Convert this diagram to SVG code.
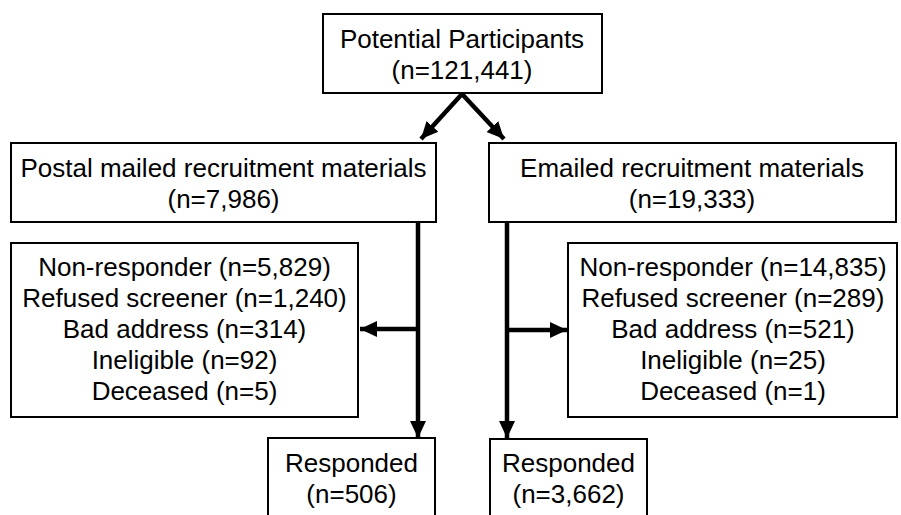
<svg xmlns="http://www.w3.org/2000/svg" width="901" height="515" viewBox="0 0 901 515">
<style>
.box{fill:#fff;stroke:#000;stroke-width:2}
.t{font-family:"Liberation Sans",Arial,sans-serif;font-size:26px;fill:#000;text-anchor:middle}
.c{fill:none;stroke:#000;stroke-width:4.5}
</style>
<defs>
<marker id="ah" markerUnits="userSpaceOnUse" markerWidth="18" markerHeight="18" viewBox="0 0 18 18" refX="17" refY="9" orient="auto">
<path d="M0,1 L17,9 L0,17 Z" fill="#000"/>
</marker>
</defs>
<g id="connectors">
<path class="c" d="M462,94 L421,139" marker-end="url(#ah)"/>
<path class="c" d="M462,94 L504,139" marker-end="url(#ah)"/>
<path class="c" d="M418,222 L418,438" marker-end="url(#ah)"/>
<path class="c" d="M418,329 L360,329" marker-end="url(#ah)"/>
<path class="c" d="M507,222 L507,438" marker-end="url(#ah)"/>
<path class="c" d="M507,330 L567,330" marker-end="url(#ah)"/>
</g>
<g id="potential">
<rect class="box" x="323" y="14" width="279" height="79"/>
<text class="t" x="462" y="48">Potential Participants</text>
<text class="t" x="462" y="79">(n=121,441)</text>
</g>
<g id="postal">
<rect class="box" x="11" y="143" width="425" height="79"/>
<text class="t" x="223.5" y="177">Postal mailed recruitment materials</text>
<text class="t" x="223.5" y="208">(n=7,986)</text>
</g>
<g id="emailed">
<rect class="box" x="489" y="143" width="407" height="79"/>
<text class="t" x="692" y="177">Emailed recruitment materials</text>
<text class="t" x="692" y="208">(n=19,333)</text>
</g>
<g id="postal-excluded">
<rect class="box" x="11" y="243" width="347" height="174"/>
<text class="t" x="184.5" y="276">Non-responder (n=5,829)</text>
<text class="t" x="184.5" y="307">Refused screener (n=1,240)</text>
<text class="t" x="184.5" y="338">Bad address (n=314)</text>
<text class="t" x="184.5" y="369">Ineligible (n=92)</text>
<text class="t" x="184.5" y="400">Deceased (n=5)</text>
</g>
<g id="email-excluded">
<rect class="box" x="568" y="243" width="329" height="174"/>
<text class="t" x="733" y="276">Non-responder (n=14,835)</text>
<text class="t" x="733" y="307">Refused screener (n=289)</text>
<text class="t" x="733" y="338">Bad address (n=521)</text>
<text class="t" x="733" y="369">Ineligible (n=25)</text>
<text class="t" x="733" y="400">Deceased (n=1)</text>
</g>
<g id="postal-responded">
<rect class="box" x="268" y="438" width="167" height="90"/>
<text class="t" x="351.5" y="472">Responded</text>
<text class="t" x="351.5" y="503">(n=506)</text>
</g>
<g id="email-responded">
<rect class="box" x="490" y="439" width="157" height="90"/>
<text class="t" x="568.5" y="472">Responded</text>
<text class="t" x="568.5" y="503">(n=3,662)</text>
</g>
</svg>
